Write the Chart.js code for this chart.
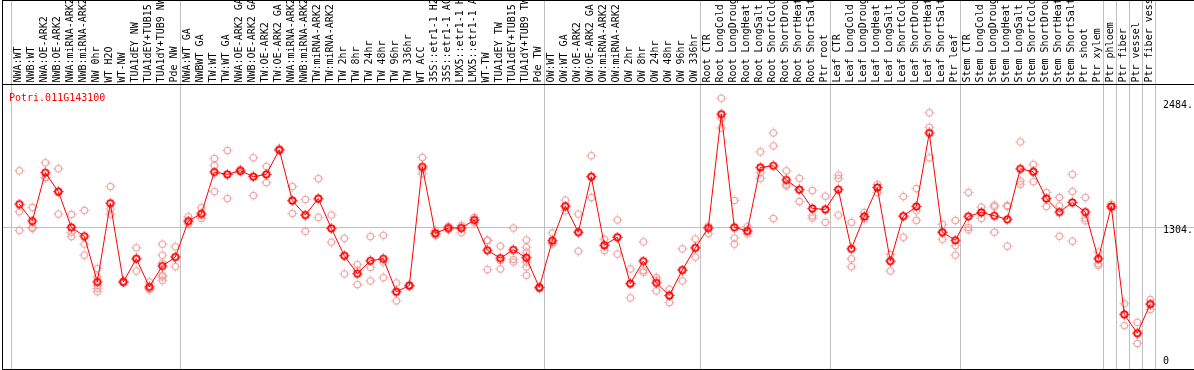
<!DOCTYPE html>
<html>
<head>
<meta charset="utf-8">
<title>Potri.011G143100</title>
<script src="https://cdn.jsdelivr.net/npm/chart.js"></script>
<style>
  html, body { margin: 0; padding: 0; background: #fff; }
  #wrap { width: 1194px; height: 370px; }
</style>
</head>
<body>
<div id="wrap"><canvas id="chart" width="1194" height="370"></canvas></div>
<script>
// --- data ---
const GENE = 'Potri.011G143100';

const samples = [
  'NWA:WT','NWB:WT','NWA:OE-ARK2','NWB:OE-ARK2','NWA:miRNA-ARK2','NWB:miRNA-ARK2','NW 0hr','WT H2O','WT-NW','TUA1dEY NW',
  'TUA1dEY+TUB15 NW','TUA1dY+TUB9 NW','Pde NW','NWA:WT GA','NWBWT GA','TW:WT','TW:WT GA','NWA:OE-ARK2 GA','NWB:OE-ARK2 GA','TW:OE-ARK2',
  'TW:OE-ARK2 GA','NWA:miRNA-ARK2 GA','NWB:miRNA-ARK2 GA','TW:miRNA-ARK2','TW:miRNA-ARK2 GA','TW 2hr','TW 8hr','TW 24hr','TW 48hr','TW 96hr',
  'TW 336hr','WT ACC','35S::etr1-1 H2O','35S::etr1-1 ACC','LMX5::etr1-1 H2O','LMX5::etr1-1 ACC','WT-TW','TUA1dEY TW','TUA1dEY+TUB15 TW','TUA1dY+TUB9 TW',
  'Pde TW','OW:WT','OW:WT GA','OW:OE-ARK2','OW:OE-ARK2 GA','OW:miRNA-ARK2','OW:miRNA-ARK2 GA','OW 2hr','OW 8hr','OW 24hr',
  'OW 48hr','OW 96hr','OW 336hr','Root CTR','Root LongCold','Root LongDrought','Root LongHeat','Root LongSalt','Root ShortCold','Root ShortDrought',
  'Root ShortHeat','Root ShortSalt','Ptr root','Leaf CTR','Leaf LongCold','Leaf LongDrought','Leaf LongHeat','Leaf LongSalt','Leaf ShortCold','Leaf ShortDrought',
  'Leaf ShortHeat','Leaf ShortSalt','Ptr leaf','Stem CTR','Stem LongCold','Stem LongDrought','Stem LongHeat','Stem LongSalt','Stem ShortCold','Stem ShortDrought',
  'Stem ShortHeat','Stem ShortSalt','Ptr shoot','Ptr xylem','Ptr phloem','Ptr fiber','Ptr vessel','Ptr fiber vessel'
];

const means = [
  1523,1363,1821,1642,1304,1219,787,1532,787,1006,
  740,937,1022,1363,1432,1827,1805,1839,1783,1805,
  2037,1557,1420,1576,1294,1034,865,987,1006,693,
  752,1877,1247,1297,1297,1373,1087,1012,1091,1015,
  733,1178,1504,1257,1783,1134,1210,771,984,777,
  658,899,1109,1297,2375,1304,1269,1871,1886,1752,
  1661,1482,1473,1661,1100,1407,1680,984,1410,1501,
  2197,1257,1181,1407,1445,1413,1379,1858,1830,1576,
  1448,1539,1448,1006,1501,479,301,577
];

const replicates = [
  [1839,1451,1275],[1492,1304,1294],[1915,1774,1774],[1858,1639,1429],[1426,1257,1216],
  [1463,1144,1040],[912,834,755,724,693],[1689,1476,1429],[793,780,787],[1109,1006,890],
  [787,724,714],[1144,1040,965,849,834,802],[1119,1022,931],[1404,1360,1335],[1489,1420,1388],
  [1955,1890,1642],[2031,1805,1576],[1852,1836,1830],[1962,1783,1604],[1880,1805,1727],
  [2046,2037,2031],[1689,1554,1435],[1567,1420,1266],[1764,1570,1398],[1420,1294,1163],
  [1200,1037,862],[950,896,761],[1216,924,796],[1228,975,827],[777,693,608],
  [752,746,758],[1965,1855,1811],[1272,1244,1225],[1313,1297,1282],[1322,1297,1253],
  [1398,1373,1347],[1181,1178,903],[1125,990,909],[1297,1000,975],[1184,1116,1069,1022,975,928,849],
  [733,740,727],[1250,1147,1159],[1561,1504,1460],[1429,1257,1078],[1981,1783,1586],
  [1191,1131,1084],[1373,1210,1050],[909,771,636],[1166,896,877],[830,805,702],
  [718,658,592],[1100,899,796],[1194,1109,1022],[1316,1297,1244],[2526,2338,2244],
  [1557,1203,1144],[1310,1269,1241],[2018,1821,1767],[2197,2075,1388],[1839,1711,1695],
  [1767,1661,1548],[1651,1413,1391],[1598,1473,1351],[1799,1767,1420],[1351,1006,931],
  [1445,1407,1382],[1711,1680,1633],[1047,984,890],[1595,1410,1210],[1670,1460,1369],
  [2388,2250,1962],[1332,1257,1191],[1369,1131,1040],[1633,1304,1279],[1495,1445,1388],
  [1514,1498,1257],[1510,1501,1125],[2112,1742,1711],[1899,1830,1736],[1633,1576,1501],
  [1586,1507,1219],[1805,1642,1172],[1586,1391,1366],[1069,959,943],[1523,1501,1485],
  [580,479,373],[404,301,204],[620,577,526]
];

const yTicks = [0, 1304, 2484];
const yTickLabels = ['0', '1304.', '2484.'];
const yGrid = [1304];
// sample index after which a grey separator is drawn
const groupBreaks = [-1, 12, 40, 52, 62, 72, 83, 84, 85, 86, 87];

// --- markers (circle with small ticks, like the bitmap original) ---
function marker(color, lw) {
  const c = document.createElement('canvas');
  c.width = 11; c.height = 11;
  const g = c.getContext('2d');
  g.strokeStyle = color;
  g.lineWidth = lw;
  g.beginPath();
  g.arc(5.5, 5.5, 3.2, 0, Math.PI * 2);
  g.stroke();
  g.fillStyle = color;
  g.fillRect(5, 0.5, 1, 1.2);
  g.fillRect(5, 9.3, 1, 1.2);
  g.fillRect(0.5, 5, 1.2, 1);
  g.fillRect(9.3, 5, 1.2, 1);
  return c;
}
const meanMarker = marker('#ff0000', 1.8);
const repMarker = marker('#ec9a9a', 1.1);

const FONT = '10px "DejaVu Sans Mono", "Liberation Mono", monospace';

const frame = {
  id: 'frame',
  beforeDatasetsDraw(chart) {
    const { ctx, width, height } = chart;
    const x = chart.scales.x, y = chart.scales.y;
    ctx.save();
    ctx.lineWidth = 1;

    // grey separators (full height)
    ctx.strokeStyle = '#c0c0c0';
    groupBreaks.forEach(k => {
      const px = Math.round(x.getPixelForValue(k + 0.38)) + 0.5;
      ctx.beginPath(); ctx.moveTo(px, 0); ctx.lineTo(px, height); ctx.stroke();
    });
    yGrid.forEach(v => {
      const py = Math.round(y.getPixelForValue(v)) + 0.5;
      ctx.beginPath(); ctx.moveTo(2, py); ctx.lineTo(width, py); ctx.stroke();
    });

    // black frame lines
    ctx.strokeStyle = '#000';
    const top = chart.chartArea.top - 0.5;
    ctx.beginPath();
    ctx.moveTo(2.5, 0); ctx.lineTo(2.5, height);
    ctx.moveTo(2, top); ctx.lineTo(width, top);
    ctx.moveTo(2, height - 0.5); ctx.lineTo(width, height - 0.5);
    ctx.moveTo(2, 0.5); ctx.lineTo(width, 0.5);
    ctx.stroke();

    // rotated sample labels
    ctx.fillStyle = '#000';
    ctx.font = FONT;
    ctx.textAlign = 'left';
    ctx.textBaseline = 'alphabetic';
    samples.forEach((s, k) => {
      ctx.save();
      ctx.translate(x.getPixelForValue(k) + 1.5, top - 2);
      ctx.rotate(-Math.PI / 2);
      ctx.fillText(s, 0, 0);
      ctx.restore();
    });

    // y tick labels on the right
    ctx.textBaseline = 'top';
    yTicks.forEach((v, i) => {
      const py = Math.min(y.getPixelForValue(v), height - 12) - 2;
      ctx.fillText(yTickLabels[i], 1163, py);
    });

    // gene title
    ctx.fillStyle = '#ff0000';
    ctx.textBaseline = 'alphabetic';
    ctx.fillText(GENE, 9, 101);
    ctx.restore();
  }
};

const repPoints = [];
replicates.forEach((reps, k) => reps.forEach(v => repPoints.push({ x: k, y: v })));

new Chart(document.getElementById('chart'), {
  type: 'line',
  data: {
    datasets: [
      {
        label: 'mean',
        data: means.map((v, k) => ({ x: k, y: v })),
        borderColor: '#ff0000',
        borderWidth: 1,
        tension: 0,
        pointStyle: meanMarker,
        order: 0,
        clip: false
      },
      {
        label: 'replicates',
        data: repPoints,
        showLine: false,
        pointStyle: repMarker,
        order: 1,
        clip: false
      }
    ]
  },
  options: {
    responsive: false,
    animation: false,
    events: [],
    layout: { padding: { left: 12.8, right: 37.2, top: 85, bottom: 3 } },
    plugins: { legend: { display: false }, tooltip: { enabled: false } },
    scales: {
      x: { type: 'linear', min: -0.5, max: 87.5, display: false },
      y: { min: 0, max: 2651, display: false }
    }
  },
  plugins: [frame]
});
</script>
</body>
</html>
